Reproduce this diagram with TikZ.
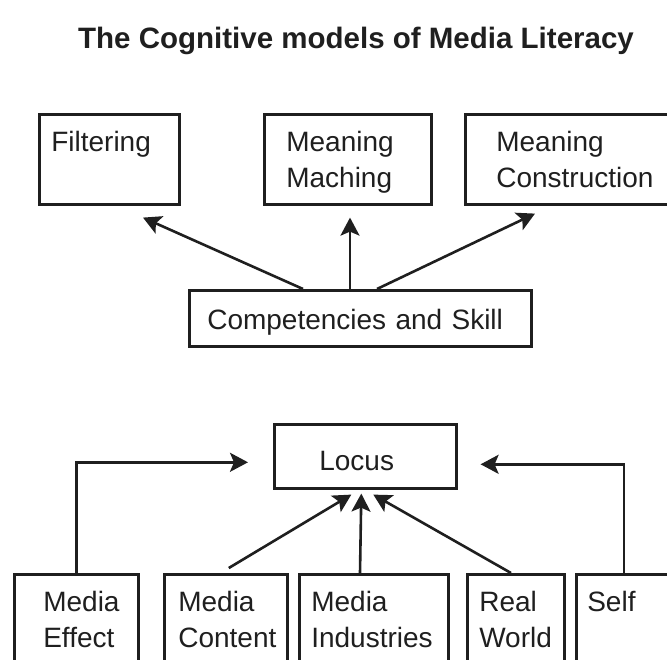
\documentclass[tikz,border=0pt]{standalone}
\usepackage{fontspec}
\setmainfont{Liberation Sans}
\usetikzlibrary{arrows.meta, positioning, calc}

\begin{document}
\begin{tikzpicture}[x=1pt, y=-1pt, line width=2.6pt, black!88,
    >={Stealth[length=18pt, width=19pt, inset=4pt]},
    font=\fontsize{28}{36}\selectfont,
    cbox/.style 2 args={draw, anchor=north west, inner sep=0pt, align=left,
      text width=#1, execute at begin node={\leftskip=#2\relax}},
    tall/.style={minimum height=90pt, text height=26pt, text depth=42pt}]
  \useasboundingbox (0,0) rectangle (667,659);

  \node[font=\fontsize{29.5}{35}\selectfont\bfseries, anchor=base] (title) at (356,48)
    {The Cognitive models of Media Literacy};

  % upper half: competencies and the three processes
  \node[cbox={140pt}{12pt}, tall] (filter) at (38,113) {Filtering};
  \node[cbox={167pt}{22pt}, tall] (match)  at (263,113) {Meaning\\Maching};
  \node[cbox={240pt}{31pt}, tall] (constr) at (464,113) {Meaning\\Construction};
  \node[cbox={342pt}{18pt}, minimum height=56pt, text height=22pt, text depth=0pt]
    (skill) at (188,289) {Competencies and Skill};

  \draw[->] ($(skill.north west)+(115,0)$) -- ($(filter.south west)+(105,12)$);
  \draw[->] ($(skill.north west)+(162,0)$) -- ($(match.south west)+(87,12)$);
  \draw[->] ($(skill.north west)+(189,0)$) -- ($(constr.south west)+(71,8)$);

  % lower half: locus and its five sources
  \node[cbox={182pt}{45pt}, minimum height=64pt, text height=28pt, text depth=0pt]
    (locus) at (273,423) {Locus};

  \node[cbox={124pt}{29pt}, tall] (effect)     at (13,573)  {Media\\Effect};
  \node[cbox={123pt}{14pt}, tall] (content)    at (163,573) {Media\\Content};
  \node[cbox={149pt}{12pt}, tall] (industries) at (298,573) {Media\\Industries};
  \node[cbox={97pt}{12pt}, tall]  (real)       at (466,573) {Real\\World};
  \node[cbox={95pt}{11pt}, tall]  (self)       at (575,573) {Self};

  \draw[->] (effect.north) |- ($(locus.west)+(-25,6)$);
  \draw[->] (self.north) |- ($(locus.east)+(23,8)$);
  \draw[->] ($(content.north)+(3,-5)$) -- ($(locus.south)+(-14,5)$);
  \draw[->] ($(industries.north west)+(62,0)$) -- ($(locus.south)+(-4,4)$);
  \draw[->] ($(real.north west)+(45,0)$) -- ($(locus.south)+(8,5)$);
\end{tikzpicture}
\end{document}
